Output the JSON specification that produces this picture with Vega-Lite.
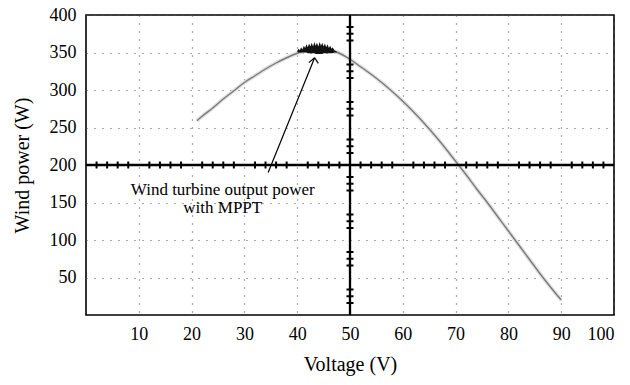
{
"$schema": "https://vega.github.io/schema/vega-lite/v6.json",
"width": 528,
"height": 300,
"autosize": {"type": "none"},
"padding": {"left": 86, "top": 15, "right": 16, "bottom": 70},
"background": "white",
"config": {"view": {"stroke": "#000", "strokeWidth": 1.6}, "font": "Liberation Serif"},
"datasets": {
"curve": [
{"V":21,"P":259},{"V":22,"P":265},{"V":24,"P":276},{"V":26,"P":288},{"V":28,"P":299},{"V":30,"P":310},{"V":32,"P":319},{"V":34,"P":328},{"V":36,"P":336},{"V":38,"P":343},{"V":40,"P":349},{"V":42,"P":353},{"V":44,"P":355},{"V":45,"P":355},{"V":46,"P":354},{"V":47,"P":352},{"V":48,"P":349},{"V":50,"P":341},{"V":52,"P":331},{"V":54,"P":321},{"V":56,"P":310},{"V":58,"P":298},{"V":60,"P":285},{"V":62,"P":271},{"V":64,"P":256},{"V":66,"P":240},{"V":68,"P":223},{"V":70,"P":205},{"V":72,"P":187},{"V":74,"P":168},{"V":76,"P":150},{"V":78,"P":131},{"V":80,"P":112},{"V":82,"P":93},{"V":84,"P":74},{"V":86,"P":55},{"V":88,"P":37},{"V":90,"P":20}
],
"noise": [
{"V":40.0,"P":351,"P2":352},{"V":40.25,"P":350,"P2":355},{"V":40.5,"P":350,"P2":353},{"V":40.75,"P":350,"P2":357},{"V":41.0,"P":350,"P2":354},{"V":41.25,"P":350,"P2":359},{"V":41.5,"P":350,"P2":356},{"V":41.75,"P":350,"P2":361},{"V":42.0,"P":349,"P2":357},{"V":42.25,"P":349,"P2":362},{"V":42.5,"P":349,"P2":358},{"V":42.75,"P":349,"P2":363},{"V":43.0,"P":349,"P2":358},{"V":43.25,"P":349,"P2":364},{"V":43.5,"P":348,"P2":359},{"V":43.75,"P":348,"P2":363},{"V":44.0,"P":348,"P2":358},{"V":44.25,"P":348,"P2":364},{"V":44.5,"P":348,"P2":359},{"V":44.75,"P":348,"P2":363},{"V":45.0,"P":349,"P2":358},{"V":45.25,"P":349,"P2":362},{"V":45.5,"P":349,"P2":357},{"V":45.75,"P":349,"P2":361},{"V":46.0,"P":349,"P2":356},{"V":46.25,"P":349,"P2":359},{"V":46.5,"P":349,"P2":355},{"V":46.75,"P":349,"P2":357},{"V":47.0,"P":350,"P2":353},{"V":47.5,"P":350,"P2":351}
],
"hticks": [
{"V":2,"P":200},{"V":4,"P":200},{"V":6,"P":200},{"V":8,"P":200},{"V":12,"P":200},{"V":14,"P":200},{"V":16,"P":200},{"V":18,"P":200},{"V":22,"P":200},{"V":24,"P":200},{"V":26,"P":200},{"V":28,"P":200},{"V":32,"P":200},{"V":34,"P":200},{"V":36,"P":200},{"V":38,"P":200},{"V":42,"P":200},{"V":44,"P":200},{"V":46,"P":200},{"V":48,"P":200},{"V":52,"P":200},{"V":54,"P":200},{"V":56,"P":200},{"V":58,"P":200},{"V":62,"P":200},{"V":64,"P":200},{"V":66,"P":200},{"V":68,"P":200},{"V":72,"P":200},{"V":74,"P":200},{"V":76,"P":200},{"V":78,"P":200},{"V":82,"P":200},{"V":84,"P":200},{"V":86,"P":200},{"V":88,"P":200},{"V":92,"P":200},{"V":94,"P":200},{"V":96,"P":200},{"V":98,"P":200}
],
"vticks": [
{"V":50,"P":16},{"V":50,"P":25},{"V":50,"P":34},
{"V":50,"P":66},{"V":50,"P":75},{"V":50,"P":84},
{"V":50,"P":116},{"V":50,"P":125},{"V":50,"P":134},
{"V":50,"P":166},{"V":50,"P":175},{"V":50,"P":184},
{"V":50,"P":216},{"V":50,"P":225},{"V":50,"P":234},
{"V":50,"P":266},{"V":50,"P":275},{"V":50,"P":284},
{"V":50,"P":316},{"V":50,"P":325},{"V":50,"P":334},
{"V":50,"P":366},{"V":50,"P":375},{"V":50,"P":384}
],
"arrow": [
{"V":34.5,"P":190,"V2":43.3,"P2":343},
{"V":42.2,"P":336.5,"V2":43.3,"P2":343},
{"V":44.0,"P":335.5,"V2":43.3,"P2":343}
],
"labels": [
{"V":25.9,"P":160.5,"label":"Wind turbine output power"},
{"V":25.9,"P":136,"label":"with MPPT"}
]
},
"layer": [
{
"data": {"name": "curve"},
"mark": {"type": "line", "stroke": "#e2e2e2", "strokeWidth": 4, "interpolate": "monotone"},
"encoding": {
"x": {"field": "V", "type": "quantitative", "scale": {"domain": [0, 100], "nice": false, "zero": false},
"axis": {"title": "Voltage (V)", "values": [10,20,30,40,50,60,70,80,90,100], "grid": true, "gridDash": [1,7], "gridColor": "#555", "gridWidth": 1.2, "ticks": false, "domain": false, "labelFontSize": 18, "labelColor": "#000", "labelPadding": 10, "titleFontSize": 20, "titleFontWeight": "normal", "titleColor": "#000", "titlePadding": 11}},
"y": {"field": "P", "type": "quantitative", "scale": {"domain": [0, 400], "nice": false},
"axis": {"title": "Wind power (W)", "values": [50,100,150,200,250,300,350,400], "grid": true, "gridDash": [1,7], "gridColor": "#555", "gridWidth": 1.2, "ticks": false, "domain": false, "labelFontSize": 18, "labelColor": "#000", "labelPadding": 10, "titleFontSize": 20, "titleFontWeight": "normal", "titleColor": "#000", "titlePadding": 17}}
}
},
{
"data": {"name": "curve"},
"mark": {"type": "line", "stroke": "#7a7a7a", "strokeWidth": 1.4, "interpolate": "monotone"},
"encoding": {"x": {"field": "V", "type": "quantitative"}, "y": {"field": "P", "type": "quantitative"}}
},
{
"data": {"name": "noise"},
"mark": {"type": "area", "color": "#111", "opacity": 1},
"encoding": {"x": {"field": "V", "type": "quantitative"}, "y": {"field": "P", "type": "quantitative"}, "y2": {"field": "P2"}}
},
{
"data": {"values": [{"V": 50}]},
"mark": {"type": "rule", "stroke": "#000", "strokeWidth": 2.3},
"encoding": {"x": {"field": "V", "type": "quantitative"}}
},
{
"data": {"values": [{"P": 200}]},
"mark": {"type": "rule", "stroke": "#000", "strokeWidth": 2.3},
"encoding": {"y": {"field": "P", "type": "quantitative"}}
},
{
"data": {"name": "hticks"},
"mark": {"type": "tick", "orient": "vertical", "size": 7, "thickness": 2, "color": "#000", "opacity": 1},
"encoding": {"x": {"field": "V", "type": "quantitative"}, "y": {"field": "P", "type": "quantitative"}}
},
{
"data": {"name": "vticks"},
"mark": {"type": "tick", "orient": "horizontal", "size": 7, "thickness": 2, "color": "#000", "opacity": 1},
"encoding": {"x": {"field": "V", "type": "quantitative"}, "y": {"field": "P", "type": "quantitative"}}
},
{
"data": {"name": "arrow"},
"mark": {"type": "rule", "stroke": "#000", "strokeWidth": 1.2},
"encoding": {"x": {"field": "V", "type": "quantitative"}, "y": {"field": "P", "type": "quantitative"}, "x2": {"field": "V2"}, "y2": {"field": "P2"}}
},
{
"data": {"name": "labels"},
"mark": {"type": "text", "fontSize": 17, "align": "center", "baseline": "alphabetic", "color": "#000"},
"encoding": {"x": {"field": "V", "type": "quantitative"}, "y": {"field": "P", "type": "quantitative"}, "text": {"field": "label"}}
}
]
}
